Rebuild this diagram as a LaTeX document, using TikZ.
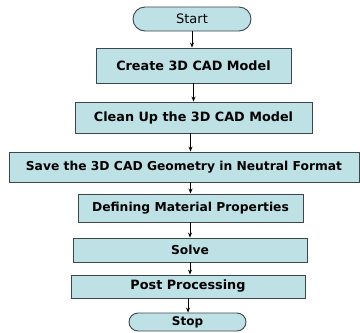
\documentclass[tikz,border=0pt]{standalone}
\usepackage{fontspec}
\setmainfont{DejaVu Sans}
\usetikzlibrary{arrows.meta,shapes.misc}
\definecolor{boxfill}{RGB}{190,225,230}
\definecolor{boxline}{RGB}{60,70,75}
\tikzset{
  x=1pt, y=1pt,
  stepbox/.style={draw=boxline, line width=0.9pt, fill=boxfill, inner sep=0pt,
    text=black},
  termbox/.style={draw=boxline, line width=0.9pt, fill=boxfill, inner sep=0pt,
    rounded rectangle, text=black},
  arr/.style={-{Stealth[length=5pt,width=4pt]}, line width=0.8pt, black}
}
\begin{document}
\begin{tikzpicture}
\useasboundingbox (0,0) rectangle (360,-333);
% process chain, top to bottom
\node[termbox, minimum width=118, minimum height=24, font=\fontsize{13}{13}\selectfont] (start) at (192,-19) {Start};
\node[stepbox, minimum width=195, minimum height=35, font=\bfseries\fontsize{12.8}{13}\selectfont] (create) at (193.5,-65.5) {Create 3D CAD Model};
\node[stepbox, minimum width=237, minimum height=31, font=\bfseries\fontsize{12.8}{13}\selectfont] (clean) at (193.5,-117.5) {Clean Up the 3D CAD Model};
\node[stepbox, minimum width=350, minimum height=30, font=\bfseries\fontsize{12.3}{13}\selectfont] (save) at (184,-167) {Save the 3D CAD Geometry in Neutral Format};
\node[stepbox, minimum width=225, minimum height=28, font=\bfseries\fontsize{12.3}{13}\selectfont] (define) at (190.5,-208) {Defining Material Properties};
\node[stepbox, minimum width=234, minimum height=24, font=\bfseries\fontsize{12.3}{13}\selectfont] (solve) at (190,-250) {Solve};
\node[stepbox, minimum width=234, minimum height=23, font=\bfseries\fontsize{12.8}{13}\selectfont] (post) at (188,-286.5) {Post Processing};
\node[termbox, minimum width=117, minimum height=18, font=\bfseries\fontsize{12}{12}\selectfont] (stop) at (187.5,-322) {Stop};
% connectors
\draw[arr] (start.south) -- (start.south |- create.north);
\draw[arr] (create.south) -- (create.south |- clean.north);
\draw[arr] (clean.south -| define.north) -- (define.north |- save.north);
\draw[arr] (save.south -| define.north) -- (define.north);
\draw[arr] (define.south -| solve.north) -- (solve.north);
\draw[arr] (solve.south) -- (solve.south |- post.north);
\draw[arr] (post.south) -- (post.south |- stop.north);
\end{tikzpicture}
\end{document}
